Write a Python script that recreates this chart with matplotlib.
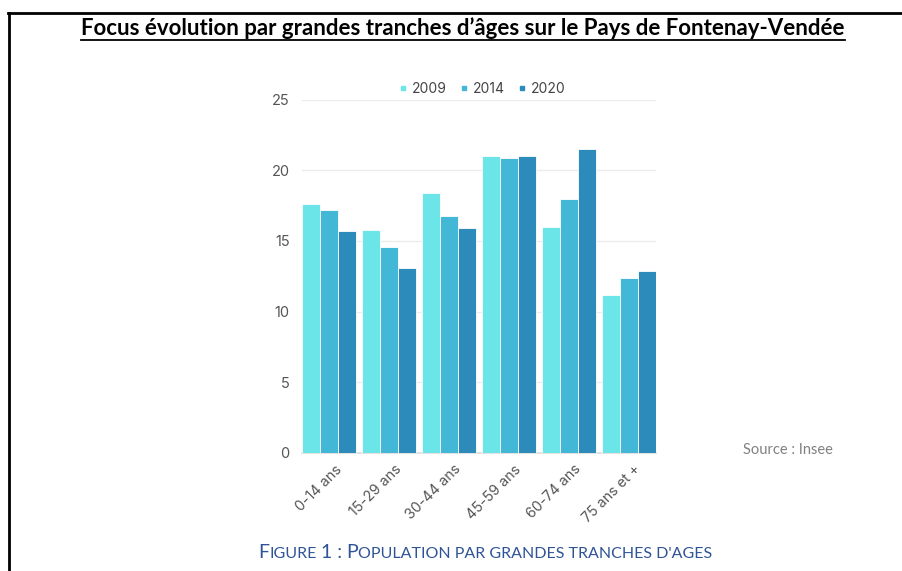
import matplotlib
matplotlib.use('Agg')
import matplotlib.pyplot as plt
from matplotlib.lines import Line2D
import numpy as np

# data
categories = ['0-14 ans', '15-29 ans', '30-44 ans', '45-59 ans', '60-74 ans', '75 ans et +']
years = ['2009', '2014', '2020']
values_2009 = [17.6, 15.8, 18.4, 21.0, 16.0, 11.2]
values_2014 = [17.2, 14.6, 16.8, 20.9, 18.0, 12.4]
values_2020 = [15.7, 13.1, 15.9, 21.0, 21.5, 12.9]
colors = ['#6be5e8', '#42b7d6', '#2d8bbb']

W, H = 902, 571
fig = plt.figure(figsize=(W / 100, H / 100), dpi=100)

ax = fig.add_axes([302 / W, 1 - 452.5 / H, (655.5 - 302) / W, (452.5 - 100) / H])

x = np.arange(len(categories))
bw = 0.3
for i, (vals, col) in enumerate(zip([values_2009, values_2014, values_2020], colors)):
    ax.bar(x + (i - 1) * bw, vals, width=bw, color=col, edgecolor='#ffffff', linewidth=0.6, zorder=3)

ax.set_xlim(-0.45, len(categories) - 0.55)
ax.set_ylim(0, 25)
ax.set_yticks([0, 5, 10, 15, 20, 25])
ax.grid(axis='y', color='#ececec', linewidth=1, zorder=0)
for s in ['top', 'right', 'left']:
    ax.spines[s].set_visible(False)
ax.spines['bottom'].set_color('#dddddd')
ax.spines['bottom'].set_linewidth(1.2)
ax.tick_params(axis='both', length=0, colors='#555555')
ax.tick_params(axis='y', labelsize=10.5, pad=9)
# labels sit a little right of the group centre, as in the original
ax.set_xticks(x + 0.09)
ax.set_xticklabels(categories, rotation=45, ha='right', rotation_mode='anchor',
                   fontsize=10.3, family='Inter')
for lab in ax.get_yticklabels():
    lab.set_family('Inter')
ax.tick_params(axis='x', pad=7)

handles = [Line2D([], [], marker='s', linestyle='none', markersize=3.5, color=c) for c in colors]
leg = ax.legend(handles, years, loc='lower center', bbox_to_anchor=(0.51, 0.996), ncol=3,
                frameon=False, handlelength=0.6, handletextpad=0.35, columnspacing=0.9,
                prop={'family': 'Inter', 'size': 10}, borderaxespad=0)
for t in leg.get_texts():
    t.set_color('#444444')

# page border (top and left)
fig.add_artist(Line2D([8 / W, 1], [1 - 12.5 / H, 1 - 12.5 / H], color='black', linewidth=2))
fig.add_artist(Line2D([8.5 / W, 8.5 / W], [1 - 12.5 / H, 0], color='black', linewidth=2))

renderer = fig.canvas.get_renderer()

# title with underline
title = fig.text(463 / W, 1 - 35 / H, "Focus évolution par grandes tranches d’âges sur le Pays de Fontenay-Vendée",
                 ha='center', va='baseline', fontsize=16, fontweight='bold', family='Lato', color='black')
bb = title.get_window_extent(renderer)
fig.add_artist(Line2D([bb.x0 / W, bb.x1 / W], [1 - 40 / H, 1 - 40 / H], color='black', linewidth=1.3))

# source
fig.text(743 / W, 1 - 450 / H, 'Source : Insee', ha='left', va='center', fontsize=10.5,
         family='Lato', color='#808080')

# caption in small caps
cap_color = '#2f5496'
big, small = 14, 11.5
caption_parts = [('F', big, 0), ('IGURE', small, 1), ('1 :', big, 1), ('P', big, 0),
                 ("OPULATION PAR GRANDES TRANCHES D'AGES", small, 0)]
parts = []
for s, size, gap in caption_parts:
    t = fig.text(0, 1 - 558 / H, s, fontsize=size, family='Lato', color=cap_color, va='baseline')
    parts.append((t, gap))
space = 4
widths = [t.get_window_extent(renderer).width for t, _ in parts]
total = sum(widths) + space * sum(g for _, g in parts)
xpos = 485 - total / 2
for (t, gap), w in zip(parts, widths):
    t.set_x(xpos / W)
    xpos += w + gap * space

fig.savefig('out.png', dpi=100)
